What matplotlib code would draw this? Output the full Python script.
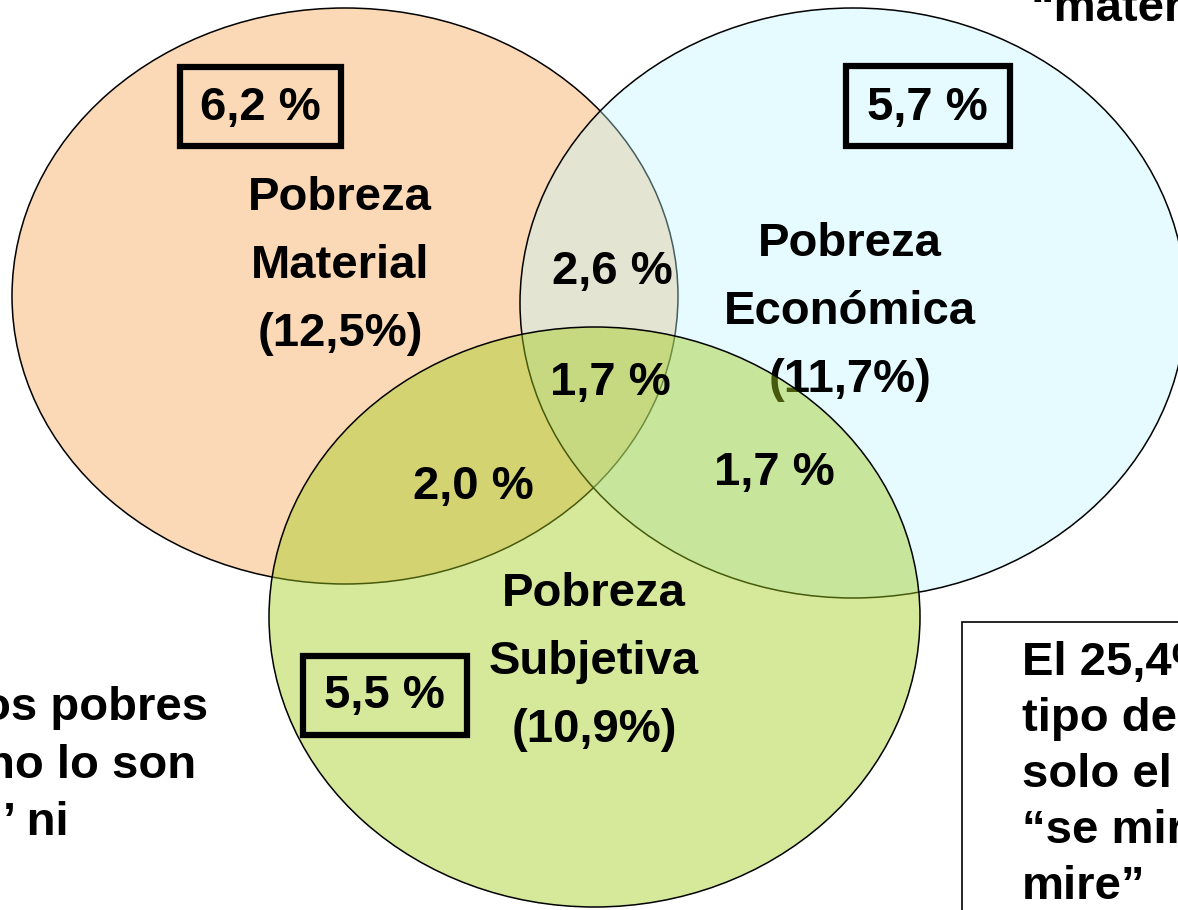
import matplotlib
matplotlib.use("Agg")
import matplotlib.pyplot as plt
from matplotlib.patches import Ellipse, Rectangle

# --- data -------------------------------------------------------------
set_names = ["Pobreza\nMaterial", "Pobreza\nEconómica", "Pobreza\nSubjetiva"]
set_totals = ["12,5%", "11,7%", "10,9%"]
# regions: only M, only E, only S, M&E, M&E&S, M&S, E&S
region_keys = ["M", "E", "S", "ME", "MES", "MS", "ES"]
region_values = ["6,2", "5,7", "5,5", "2,6", "1,7", "2,0", "1,7"]
left_lines = ["os pobres", "no lo son", "’ ni"]
right_lines = ["El 25,4%", "tipo de", "solo el", "“se mir", "mire”"]
top_text = "“mater"

# --- layout (pixel coords, y down) -----------------------------------
ell_center = [(345, 296), (853, 303), (594.5, 617)]
ell_size = [(666, 576), (666, 590), (651, 580)]
ell_face = ["#fcd9b6", "#bbf7ff", "#a2cd1c"]
ell_alpha = [1.0, 0.38, 0.44]
label_pos = [(340, 266), (850, 312), (594, 662)]
region_pos = {"M": (260, 108), "E": (927, 108), "S": (384, 696),
              "ME": (612, 272), "MES": (610, 383), "MS": (473, 487),
              "ES": (774, 473)}
boxed = {"M": (180, 67, 161, 79), "E": (846, 66, 164, 80),
         "S": (303, 656, 164, 79)}

FONT = ["Liberation Sans", "DejaVu Sans"]
FS = 34

fig = plt.figure(figsize=(11.78, 9.10), dpi=100)
ax = fig.add_axes([0, 0, 1, 1])
ax.set_xlim(0, 1178)
ax.set_ylim(910, 0)
ax.axis("off")

for i in range(3):
    z = 1 + i
    ax.add_patch(Ellipse(ell_center[i], *ell_size[i], facecolor=ell_face[i],
                         alpha=ell_alpha[i], edgecolor="none", zorder=z))
    ax.add_patch(Ellipse(ell_center[i], *ell_size[i], facecolor="none",
                         edgecolor="black", linewidth=1.1, zorder=z + 0.1))
    # set labels: material/economic below later fills, subjective on top
    lz = z + 0.5 if i < 2 else 5
    ax.text(label_pos[i][0], label_pos[i][1],
            f"{set_names[i]}\n({set_totals[i]})", ha="center", va="center",
            fontsize=FS, fontweight="bold", family=FONT, linespacing=1.7,
            zorder=lz)

for key, val in zip(region_keys, region_values):
    x, y = region_pos[key]
    ax.text(x, y, f"{val} %", ha="center", va="center", fontsize=FS,
            fontweight="bold", family=FONT, zorder=6)
    if key in boxed:
        bx, by, bw, bh = boxed[key]
        ax.add_patch(Rectangle((bx, by), bw, bh, facecolor="none",
                               edgecolor="black", linewidth=4.5, zorder=6))

# side notes, cut off by the slide edge as in the source
left_right_edge = [208, 196, 69]
for i, line in enumerate(left_lines):
    ax.text(left_right_edge[i], 720 + 57.5 * i, line, ha="right",
            va="baseline", fontsize=FS, fontweight="bold", family=FONT,
            zorder=6)

ax.add_patch(Rectangle((962, 622), 300, 400, facecolor="white",
                       edgecolor="black", linewidth=1.2, zorder=5))
for i, line in enumerate(right_lines):
    ax.text(1022, 675 + 56 * i, line, ha="left", va="baseline",
            fontsize=FS, fontweight="bold", family=FONT, zorder=6)

ax.text(1030, 21, top_text, ha="left", va="baseline", fontsize=FS,
        fontweight="bold", family=FONT, zorder=6)

fig.savefig("out.png", dpi=100)
